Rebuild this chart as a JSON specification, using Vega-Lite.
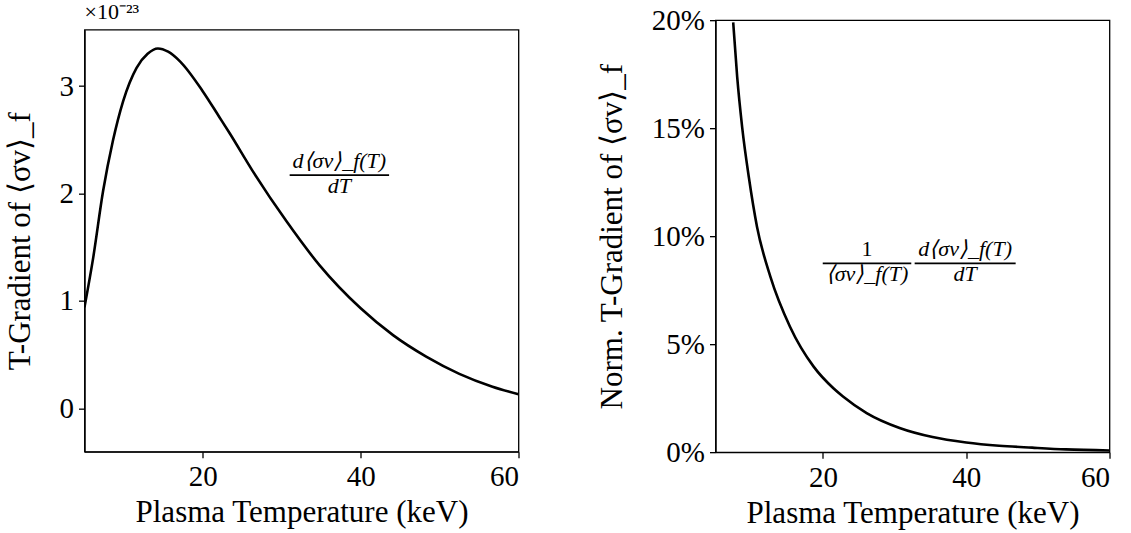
{
  "$schema": "https://vega.github.io/schema/vega-lite/v6.json",
  "background": "white",
  "padding": {"left": 2.5, "top": 0, "right": 5, "bottom": 0},
  "spacing": 75,
  "center": true,
  "config": {
    "font": "Liberation Serif",
    "view": {"stroke": "black", "strokeWidth": 1.3},
    "axis": {
      "grid": false,
      "domainColor": "black",
      "domainWidth": 1.3,
      "tickColor": "black",
      "tickWidth": 1.3,
      "tickSize": 6,
      "labelColor": "black",
      "titleColor": "black",
      "labelFont": "Liberation Serif",
      "titleFont": "Liberation Serif",
      "labelFontSize": 29,
      "titleFontSize": 31,
      "titleFontWeight": "normal",
      "labelPadding": 5,
      "titlePadding": 6
    },
    "axisY": {"titlePadding": 23}
  },
  "datasets": {
    "gradient": [
      {"T": 5.0, "grad": 0.94},
      {"T": 6.1, "grad": 1.40},
      {"T": 7.35, "grad": 2.02},
      {"T": 8.6, "grad": 2.49},
      {"T": 9.9, "grad": 2.86},
      {"T": 11.6, "grad": 3.17},
      {"T": 13.0, "grad": 3.30},
      {"T": 14.3, "grad": 3.35},
      {"T": 15.6, "grad": 3.32},
      {"T": 17.1, "grad": 3.23},
      {"T": 20.0, "grad": 2.95},
      {"T": 22.1, "grad": 2.71},
      {"T": 23.4, "grad": 2.56},
      {"T": 26.3, "grad": 2.21},
      {"T": 30.6, "grad": 1.74},
      {"T": 34.8, "grad": 1.33},
      {"T": 40.0, "grad": 0.93},
      {"T": 44.1, "grad": 0.68},
      {"T": 48.3, "grad": 0.48},
      {"T": 52.5, "grad": 0.32},
      {"T": 56.7, "grad": 0.20},
      {"T": 60.0, "grad": 0.13}
    ],
    "normalized": [
      {"T": 7.47, "norm": 0.199},
      {"T": 8.03, "norm": 0.1736},
      {"T": 8.72, "norm": 0.1505},
      {"T": 9.65, "norm": 0.1274},
      {"T": 10.8, "norm": 0.1043},
      {"T": 12.67, "norm": 0.0812},
      {"T": 15.4, "norm": 0.0581},
      {"T": 18.7, "norm": 0.0396},
      {"T": 21.46, "norm": 0.0296},
      {"T": 22.8, "norm": 0.0258},
      {"T": 26.1, "norm": 0.0181},
      {"T": 30.7, "norm": 0.0112},
      {"T": 35.3, "norm": 0.0070},
      {"T": 40.0, "norm": 0.0045},
      {"T": 44.6, "norm": 0.0030},
      {"T": 49.2, "norm": 0.0021},
      {"T": 53.9, "norm": 0.0013},
      {"T": 60.0, "norm": 0.0008}
    ]
  },
  "hconcat": [
    {
      "width": 434,
      "height": 422,
      "title": {"text": "×10⁻²³", "anchor": "start", "frame": "group", "fontSize": 22, "fontWeight": "normal", "font": "Liberation Serif", "color": "black", "offset": 6},
      "layer": [
        {
          "data": {"name": "gradient"},
          "mark": {"type": "line", "color": "black", "strokeWidth": 2.6, "interpolate": "monotone", "clip": true},
          "encoding": {
            "x": {"field": "T", "type": "quantitative", "scale": {"domain": [5, 60], "nice": false, "zero": false}, "axis": {"values": [20, 40, 60], "title": "Plasma Temperature (keV)"}},
            "y": {"field": "grad", "type": "quantitative", "scale": {"domain": [-0.405, 3.525], "nice": false, "zero": false}, "axis": {"values": [0, 1, 2, 3], "format": "d", "title": "T-Gradient of ⟨σv⟩_f"}}
          }
        },
        {
          "data": {"values": [{}]},
          "mark": {"type": "rule", "color": "black", "strokeWidth": 1.8},
          "encoding": {"x": {"datum": 31.0, "type": "quantitative"}, "x2": {"datum": 43.6}, "y": {"datum": 2.17, "type": "quantitative"}}
        },
        {
          "data": {"values": [{}]},
          "mark": {"type": "text", "font": "Liberation Serif", "fontStyle": "italic", "fontSize": 22, "baseline": "bottom", "dy": -2, "color": "black"},
          "encoding": {"x": {"datum": 37.3, "type": "quantitative"}, "y": {"datum": 2.17, "type": "quantitative"}, "text": {"value": "d⟨σv⟩_f(T)"}}
        },
        {
          "data": {"values": [{}]},
          "mark": {"type": "text", "font": "Liberation Serif", "fontStyle": "italic", "fontSize": 22, "baseline": "top", "dy": 1, "color": "black"},
          "encoding": {"x": {"datum": 37.3, "type": "quantitative"}, "y": {"datum": 2.17, "type": "quantitative"}, "text": {"value": "dT"}}
        }
      ]
    },
    {
      "width": 394,
      "height": 432,
      "layer": [
        {
          "data": {"name": "normalized"},
          "mark": {"type": "line", "color": "black", "strokeWidth": 2.6, "interpolate": "monotone", "clip": true},
          "encoding": {
            "x": {"field": "T", "type": "quantitative", "scale": {"domain": [5, 60], "nice": false, "zero": false}, "axis": {"values": [20, 40, 60], "title": ["Plasma Temperature (keV)", ""], "titleLineHeight": 9}},
            "y": {"field": "norm", "type": "quantitative", "scale": {"domain": [0, 0.2], "nice": false}, "axis": {"values": [0, 0.05, 0.1, 0.15, 0.2], "format": ".0%", "title": "Norm. T-Gradient of ⟨σv⟩_f"}}
          }
        },
        {
          "data": {"values": [{}]},
          "mark": {"type": "rule", "color": "black", "strokeWidth": 1.8},
          "encoding": {"x": {"datum": 19.97, "type": "quantitative"}, "x2": {"datum": 32.33}, "y": {"datum": 0.0874, "type": "quantitative"}}
        },
        {
          "data": {"values": [{}]},
          "mark": {"type": "rule", "color": "black", "strokeWidth": 1.8},
          "encoding": {"x": {"datum": 32.8, "type": "quantitative"}, "x2": {"datum": 46.9}, "y": {"datum": 0.0874, "type": "quantitative"}}
        },
        {
          "data": {"values": [{}]},
          "mark": {"type": "text", "font": "Liberation Serif", "fontSize": 22, "baseline": "bottom", "dy": -2, "color": "black"},
          "encoding": {"x": {"datum": 26.15, "type": "quantitative"}, "y": {"datum": 0.0874, "type": "quantitative"}, "text": {"value": "1"}}
        },
        {
          "data": {"values": [{}]},
          "mark": {"type": "text", "font": "Liberation Serif", "fontStyle": "italic", "fontSize": 22, "baseline": "top", "dy": 1, "color": "black"},
          "encoding": {"x": {"datum": 26.15, "type": "quantitative"}, "y": {"datum": 0.0874, "type": "quantitative"}, "text": {"value": "⟨σv⟩_f(T)"}}
        },
        {
          "data": {"values": [{}]},
          "mark": {"type": "text", "font": "Liberation Serif", "fontStyle": "italic", "fontSize": 22, "baseline": "bottom", "dy": -2, "color": "black"},
          "encoding": {"x": {"datum": 39.85, "type": "quantitative"}, "y": {"datum": 0.0874, "type": "quantitative"}, "text": {"value": "d⟨σv⟩_f(T)"}}
        },
        {
          "data": {"values": [{}]},
          "mark": {"type": "text", "font": "Liberation Serif", "fontStyle": "italic", "fontSize": 22, "baseline": "top", "dy": 1, "color": "black"},
          "encoding": {"x": {"datum": 39.85, "type": "quantitative"}, "y": {"datum": 0.0874, "type": "quantitative"}, "text": {"value": "dT"}}
        }
      ]
    }
  ]
}
